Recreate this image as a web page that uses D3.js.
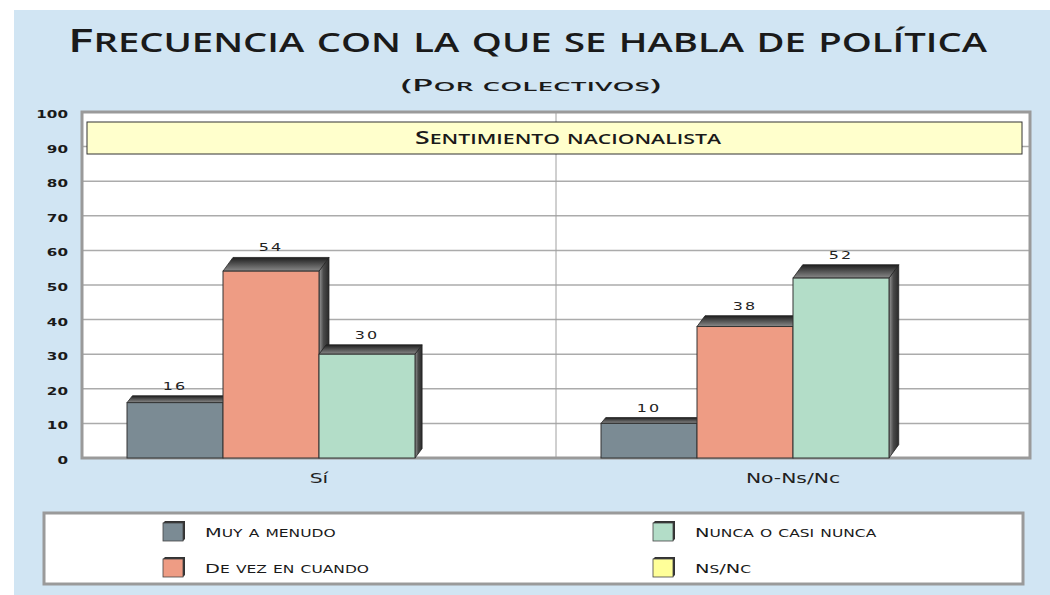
<!DOCTYPE html>
<html>
<head>
<meta charset="utf-8">
<script src="https://cdn.jsdelivr.net/npm/d3@7"></script>
<style>
  html, body { margin: 0; padding: 0; background: #ffffff; }
  svg { display: block; }
</style>
</head>
<body>
<svg id="chart" width="1050" height="595"></svg>
<script>
// ---------------- data ----------------
const titleText = "Frecuencia con la que se habla de política";
const subtitleText = "(Por colectivos)";
const bannerText = "Sentimiento nacionalista";
const categories = ["Sí", "No-Ns/Nc"];
const series = ["Muy a menudo", "De vez en cuando", "Nunca o casi nunca", "Ns/Nc"];
const muyAMenudo = [16, 10];
const deVezEnCuando = [54, 38];
const nuncaOCasiNunca = [30, 52];
const nsNc = [null, null];
const yTicks = [0, 10, 20, 30, 40, 50, 60, 70, 80, 90, 100];

// ---------------- styles ----------------
const seriesValues = [muyAMenudo, deVezEnCuando, nuncaOCasiNunca, nsNc];
const colors = ["#7b8b94", "#ee9c84", "#b3ddc8", "#ffff99"];
const bgBlue = "#d1e5f3";
const FONT = "'DejaVu Sans', sans-serif";
const HEAD_FONT = "'Open Sans', 'DejaVu Sans', sans-serif";

const svg = d3.select("#chart");
const P = { l: 82, r: 1030, t: 112, b: 458 };

// helpers
function smallCaps(sel, str, big, small) {
  const runs = [];
  for (const ch of str) {
    const lower = ch !== ch.toUpperCase();
    const size = lower ? small : big;
    const c = ch.toUpperCase();
    if (runs.length && runs[runs.length - 1].size === size) runs[runs.length - 1].t += c;
    else runs.push({ t: c, size });
  }
  sel.selectAll("tspan").data(runs).join("tspan")
    .attr("font-size", d => d.size).text(d => d.t);
  return sel;
}
function place(sel, x, y, f) {
  sel.attr("x", 0).attr("y", 0)
    .attr("transform", `translate(${x},${y}) scale(${f},1)`);
}
function fitWidth(sel, x, y, w) {
  const len = sel.node().getComputedTextLength();
  place(sel, x, y, w / len);
}

// background panel
svg.append("rect").attr("x", 14).attr("y", 10).attr("width", 1036).attr("height", 585)
  .attr("fill", bgBlue);

// titles
const title = svg.append("text").attr("font-family", HEAD_FONT).attr("font-weight", 600)
  .attr("fill", "#1a1a1a").attr("text-anchor", "middle");
smallCaps(title, titleText, 33, 26.4);
fitWidth(title, 527.5, 52, 919);

const sub = svg.append("text").attr("font-family", HEAD_FONT).attr("font-weight", 600)
  .attr("fill", "#1a1a1a").attr("text-anchor", "middle");
smallCaps(sub, subtitleText, 16, 12.8);
fitWidth(sub, 531, 91, 260);

// scales
const y = d3.scaleLinear().domain([0, 100]).range([P.b, P.t]);
const x0 = d3.scaleBand().domain(categories).range([P.l, P.r]);
const x1 = d3.scaleBand().domain(series).range([0, x0.bandwidth()])
  .paddingInner(0).paddingOuter(0.469);

// plot background
svg.append("rect").attr("x", P.l).attr("y", P.t).attr("width", P.r - P.l).attr("height", P.b - P.t)
  .attr("fill", "#ffffff");

// gridlines
svg.append("g").selectAll("line").data(yTicks).join("line")
  .attr("x1", P.l).attr("x2", P.r)
  .attr("y1", d => y(d)).attr("y2", d => y(d))
  .attr("stroke", "#ababab").attr("stroke-width", 1.5);

// category divider
svg.append("line")
  .attr("x1", x0(categories[1])).attr("x2", x0(categories[1]))
  .attr("y1", P.t).attr("y2", P.b)
  .attr("stroke", "#a0a0a0").attr("stroke-width", 1);

// plot border
svg.append("rect").attr("x", P.l).attr("y", P.t).attr("width", P.r - P.l).attr("height", P.b - P.t)
  .attr("fill", "none").attr("stroke", "#9a9a9a").attr("stroke-width", 3);

// banner
svg.append("rect").attr("x", 87).attr("y", 122).attr("width", 935).attr("height", 32)
  .attr("fill", "#ffffcc").attr("stroke", "#333").attr("stroke-width", 1);
const ban = svg.append("text").attr("font-family", HEAD_FONT).attr("font-weight", 600)
  .attr("fill", "#1a1a1a").attr("text-anchor", "middle");
smallCaps(ban, bannerText, 18, 14.4);
fitWidth(ban, 568, 144, 306);

// gradients
const defs = svg.append("defs");
const gTop = defs.append("linearGradient").attr("id", "gTop")
  .attr("x1", 0).attr("y1", 0).attr("x2", 0).attr("y2", 1);
gTop.append("stop").attr("offset", "0%").attr("stop-color", "#1e1e1e");
gTop.append("stop").attr("offset", "100%").attr("stop-color", "#8a8a8a");
const gSide = defs.append("linearGradient").attr("id", "gSide")
  .attr("x1", 0).attr("y1", 0).attr("x2", 1).attr("y2", 0);
gSide.append("stop").attr("offset", "0%").attr("stop-color", "#9a9a9a");
gSide.append("stop").attr("offset", "45%").attr("stop-color", "#4a4a4a");
gSide.append("stop").attr("offset", "100%").attr("stop-color", "#2a2a2a");

// bars
const bars = [];
categories.forEach((c, ci) => {
  series.forEach((s, si) => {
    const v = seriesValues[si][ci];
    if (v == null) return;
    bars.push({ c, s, si, v });
  });
});
const barG = svg.append("g");
bars.forEach(d => {
  const xa = x0(d.c) + x1(d.s);
  const xb = xa + x1.bandwidth();
  const yt = y(d.v);
  const yb = y(0);
  const dx = 3.5 + 0.12 * d.v;
  const dy = 4 + 0.18 * d.v;
  const g = barG.append("g");
  g.append("polygon")
    .attr("points", [[xb, yt], [xb + dx, yt - dy], [xb + dx, yb - dy], [xb, yb]].map(p => p.join(",")).join(" "))
    .attr("fill", "url(#gSide)").attr("stroke", "#222").attr("stroke-width", 0.8);
  g.append("polygon")
    .attr("points", [[xa, yt], [xa + dx, yt - dy], [xb + dx, yt - dy], [xb, yt]].map(p => p.join(",")).join(" "))
    .attr("fill", "url(#gTop)").attr("stroke", "#222").attr("stroke-width", 0.8);
  g.append("rect").attr("x", xa).attr("y", yt).attr("width", xb - xa).attr("height", yb - yt)
    .attr("fill", colors[d.si]).attr("stroke", "#333").attr("stroke-width", 1);
  const lbl = g.append("text").attr("font-family", FONT).attr("font-size", 11)
    .attr("fill", "#222").attr("text-anchor", "middle").attr("letter-spacing", 1.5)
    .text(d.v);
  place(lbl, (xa + xb) / 2, yt - dy - 6, 1.45);
});

// y axis labels
const yAxis = svg.append("g").attr("transform", `translate(${P.l},0)`)
  .call(d3.axisLeft(y).tickValues(yTicks).tickSize(0).tickPadding(14));
yAxis.select(".domain").remove();
yAxis.selectAll("text")
  .attr("font-family", FONT).attr("font-size", 11).attr("font-weight", "bold")
  .attr("fill", "#1a1a1a").attr("dy", 0)
  .each(function () {
    d3.select(this).attr("x", 0).attr("y", 0)
      .attr("transform", "translate(-14,5.5) scale(1.38,1)");
  });

// category labels
svg.append("g").selectAll("text").data(categories).join("text")
  .attr("font-family", FONT).attr("font-size", 14).attr("fill", "#222")
  .attr("text-anchor", "middle").text(d => d)
  .each(function (d) {
    place(d3.select(this), x0(d) + x0.bandwidth() / 2, 483, 1.45);
  });

// legend
svg.append("rect").attr("x", 44).attr("y", 513).attr("width", 979).attr("height", 71)
  .attr("fill", "#ffffff").attr("stroke", "#9a9a9a").attr("stroke-width", 3);
const legX = [163, 653], legY = [537, 573];
series.forEach((s, i) => {
  const lx = legX[Math.floor(i / 2)], ly = legY[i % 2];
  const g = svg.append("g");
  const sx = lx, sy = ly - 16;
  g.append("polygon")
    .attr("points", [[sx, sy + 2], [sx + 2, sy], [sx + 22, sy], [sx + 22, sy + 18], [sx + 20, sy + 20], [sx + 20, sy + 2]].map(p => p.join(",")).join(" "))
    .attr("fill", "#333");
  g.append("rect").attr("x", sx).attr("y", sy + 2).attr("width", 20).attr("height", 18)
    .attr("fill", colors[i]).attr("stroke", "#444").attr("stroke-width", 0.8);
  const t = g.append("text").attr("font-family", FONT).attr("fill", "#1a1a1a");
  smallCaps(t, s, 12.5, 10);
  place(t, lx + 42, ly, 1.55);
});
</script>
</body>
</html>
